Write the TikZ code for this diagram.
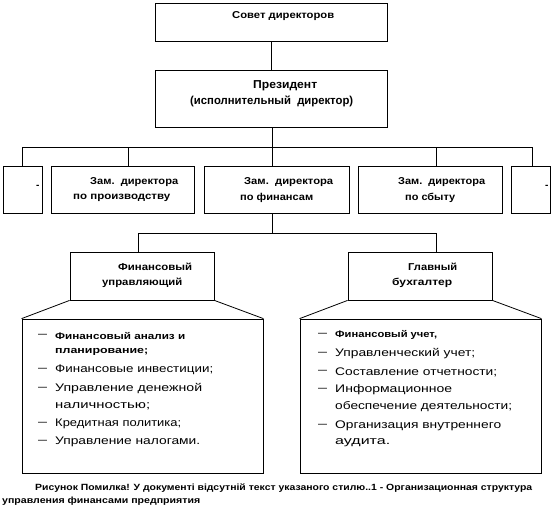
\documentclass[tikz,border=0pt]{standalone}
\usepackage{fontspec}
\usepackage{graphicx}
\setmainfont{Liberation Sans}
\newcommand{\fw}[2]{\resizebox{#1pt}{\height}{#2}}
\begin{document}
\begin{tikzpicture}[x=1pt,y=-1pt,
  box/.style={draw=black,line width=0.8pt,inner sep=0pt,fill=white},
  conn/.style={draw=black,line width=0.8pt},
  hd/.style={inner sep=0pt,anchor=west,font=\bfseries\fontsize{10}{12}\selectfont},
  hdbig/.style={inner sep=0pt,anchor=west,font=\bfseries\fontsize{11.5}{13}\selectfont},
  lst/.style={inner sep=0pt,anchor=west,font=\fontsize{11}{13}\selectfont},
  lsts/.style={inner sep=0pt,anchor=west,font=\bfseries\fontsize{9.5}{11}\selectfont},
  dsh/.style={inner sep=0pt,anchor=west,font=\fontsize{11}{13}\selectfont},
  captxt/.style={inner sep=0pt,anchor=west,font=\bfseries\fontsize{9}{11}\selectfont}]
\useasboundingbox[fill=white] (0,0) rectangle (553,523);
% boxes
\node[box,minimum width=232pt,minimum height=38pt] (sovet) at (271,22) {};
\node[box,minimum width=232pt,minimum height=57pt] (pres) at (271,98.5) {};
\node[box,minimum width=39pt,minimum height=47pt] (b1) at (22.5,189.5) {};
\node[box,minimum width=143pt,minimum height=47pt] (b2) at (122.5,189.5) {};
\node[box,minimum width=145pt,minimum height=47pt] (b3) at (276.5,189.5) {};
\node[box,minimum width=144pt,minimum height=47pt] (b4) at (430,189.5) {};
\node[box,minimum width=39pt,minimum height=47pt] (b5) at (530.5,189.5) {};
\node[box,minimum width=144pt,minimum height=48pt] (fin) at (142,276) {};
\node[box,minimum width=144pt,minimum height=48pt] (buh) at (420,276) {};
\node[box,minimum width=241pt,minimum height=154pt] (listL) at (142.5,396) {};
\node[box,minimum width=241pt,minimum height=154pt] (listR) at (420.5,396) {};
% coordinates
\coordinate (busL) at (22,147);
\coordinate (busR) at (532,147);
\coordinate (d2) at (128,147);
\coordinate (d3) at (272,147);
\coordinate (d4) at (436,147);
\coordinate (lowbus) at (272,233);
\coordinate (lowL) at (138,233);
\coordinate (lowR) at (436,233);
% connectors
\draw[conn] (sovet.south) -- (pres.north);
\draw[conn] (d3 |- pres.south) -- (d3);
\draw[conn] (busL) -- (busR);
\draw[conn] (busL) -- (busL |- b1.north);
\draw[conn] (d2) -- (d2 |- b2.north);
\draw[conn] (d3) -- (d3 |- b3.north);
\draw[conn] (d4) -- (d4 |- b4.north);
\draw[conn] (busR) -- (busR |- b5.north);
\draw[conn] (lowbus |- b3.south) -- (lowbus);
\draw[conn] (lowL) -- (lowR);
\draw[conn] (lowL) -- (lowL |- fin.north);
\draw[conn] (lowR) -- (lowR |- buh.north);
\draw[conn] (fin.south west) -- (listL.north west);
\draw[conn] (fin.south east) -- (listL.north east);
\draw[conn] (buh.south west) -- (listR.north west);
\draw[conn] (buh.south east) -- (listR.north east);
% header texts
\node[hd] (t1) at (232,16) {\fw{102}{Совет директоров}};
\node[hdbig] (t2) at (253,86) {\fw{64}{Президент}};
\node[hdbig] (t3) at (190,101) {\fw{163}{(исполнительный\ \ директор)}};
\node[hd] (t4) at (36,187) {-};
\node[hd] (t5) at (545,187) {-};
\node[hd] (t6) at (90,182) {\fw{88}{Зам.\ \ директора}};
\node[hd] (t7) at (73,198) {\fw{97}{по производству}};
\node[hd] (t8) at (244,182) {\fw{89}{Зам.\ \ директора}};
\node[hd] (t9) at (240,198) {\fw{73}{по финансам}};
\node[hd] (t10) at (398,182) {\fw{87}{Зам.\ \ директора}};
\node[hd] (t11) at (405,198) {\fw{50}{по сбыту}};
\node[hd] (t12) at (118,267) {\fw{74}{Финансовый}};
\node[hd] (t13) at (102,283) {\fw{80}{управляющий}};
\node[hd] (t14) at (408,267) {\fw{49}{Главный}};
\node[hd] (t15) at (392,283) {\fw{60}{бухгалтер}};
% left list
\node[dsh] (ld1) at (38,336) {\fw{9}{–}};
\node[lsts] (l1) at (55,336) {\fw{130}{Финансовый анализ и}};
\node[lsts] (l2) at (55,352) {\fw{93}{планирование;}};
\node[dsh] (ld2) at (38,370) {\fw{9}{–}};
\node[lst] (l3) at (55,370) {\fw{158}{Финансовые инвестиции;}};
\node[dsh] (ld3) at (38,389) {\fw{9}{–}};
\node[lst] (l4) at (55,389) {\fw{147}{Управление денежной}};
\node[lst] (l5) at (55,406) {\fw{95}{наличностью;}};
\node[dsh] (ld4) at (38,424) {\fw{9}{–}};
\node[lst] (l6) at (55,424) {\fw{126}{Кредитная политика;}};
\node[dsh] (ld5) at (38,442) {\fw{9}{–}};
\node[lst] (l7) at (55,442) {\fw{145}{Управление налогами.}};
% right list
\node[dsh] (rd1) at (318,335) {\fw{9}{–}};
\node[lsts] (r1) at (335,335) {\fw{102}{Финансовый учет,}};
\node[dsh] (rd2) at (318,354) {\fw{9}{–}};
\node[lst] (r2) at (335,354) {\fw{140}{Управленческий учет;}};
\node[dsh] (rd3) at (318,372) {\fw{9}{–}};
\node[lst] (r3) at (335,372) {\fw{162}{Составление отчетности;}};
\node[dsh] (rd4) at (318,390) {\fw{9}{–}};
\node[lst] (r4) at (335,390) {\fw{117}{Информационное}};
\node[lst] (r5) at (335,407) {\fw{177}{обеспечение деятельности;}};
\node[dsh] (rd5) at (318,426) {\fw{9}{–}};
\node[lst] (r6) at (335,426) {\fw{166}{Организация внутреннего}};
\node[lst] (r7) at (335,443) {\fw{55}{аудита.}};
% caption
\node[captxt] (c1) at (35,488) {\fw{497}{Рисунок Помилка! У документі відсутній текст указаного стилю..1 - Организационная структура}};
\node[captxt] (c2) at (2,501) {\fw{198}{управления финансами предприятия}};
\end{tikzpicture}
\end{document}
